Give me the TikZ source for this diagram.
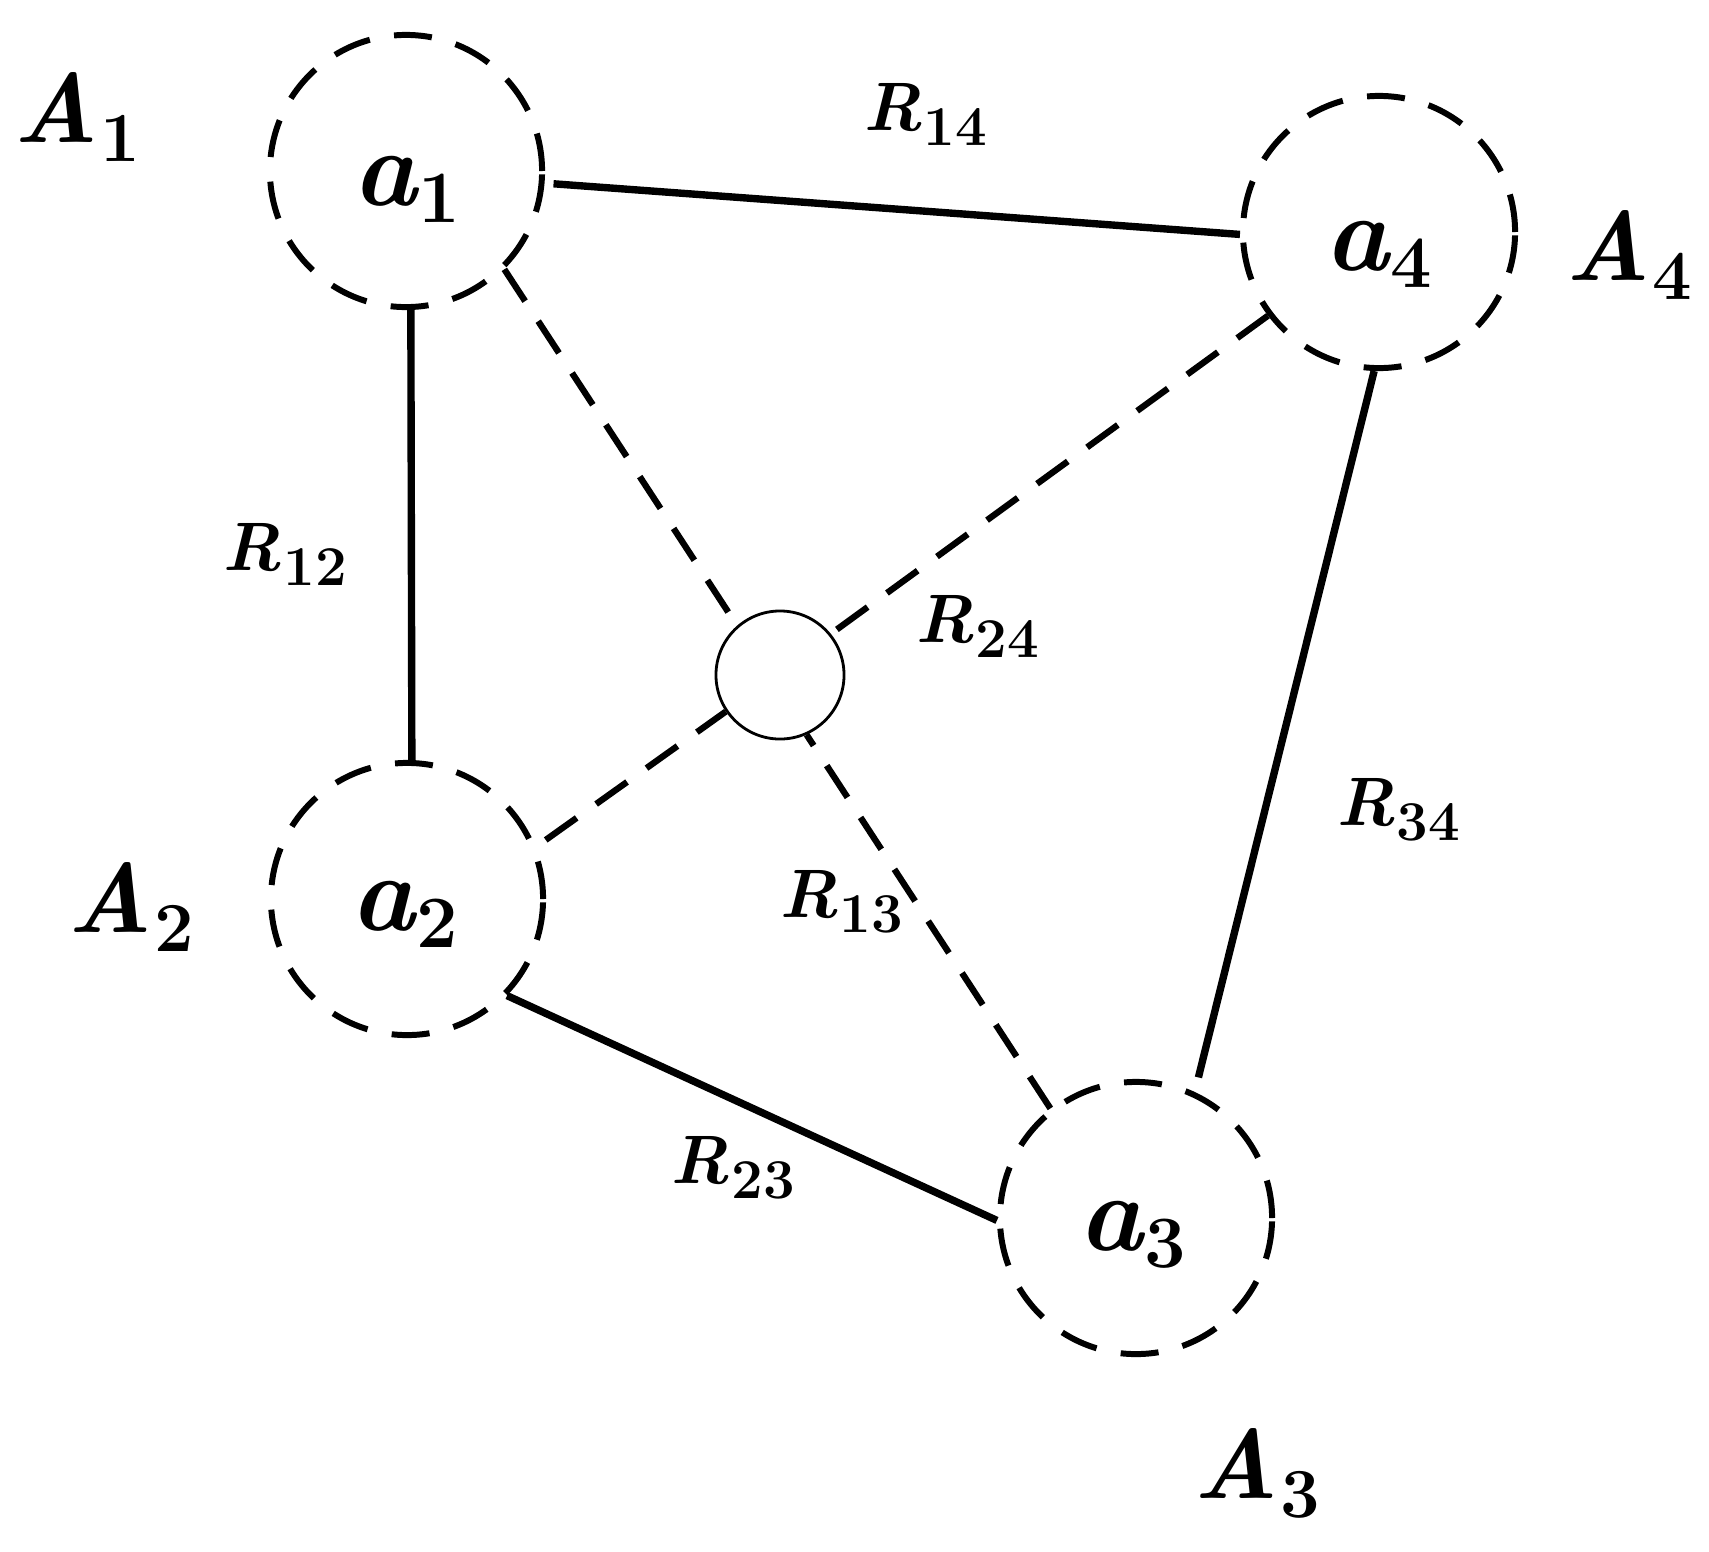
\documentclass[tikz,border=0pt]{standalone}
\newcommand\sublab[5]{{\fontsize{#3}{#3}\selectfont\bfseries\itshape #1}\kern0.5pt\raisebox{-#5}{\fontsize{#4}{#4}\selectfont\bfseries\upshape #2}}
\begin{document}
\begin{tikzpicture}[
  x=0.01cm, y=-0.01cm,
  bigc/.style={circle, draw, line width=1.7pt, dash pattern=on 10.8pt off 7pt, minimum size=2.72cm, inner sep=0pt},
  smallc/.style={circle, draw, line width=0.8pt, minimum size=1.28cm, inner sep=0pt},
  solidcon/.style={line width=2.1pt},
  dashcon/.style={line width=1.8pt, dash pattern=on 10.8pt off 6.8pt},
  labtext/.style={anchor=base, inner sep=0pt}
]
\useasboundingbox (0,0) rectangle (1709,1551);

% circles
\node[bigc] (a1) at (406,171) {};
\node[bigc] (a4) at (1379,232) {};
\node[bigc] (a2) at (407,899) {};
\node[bigc] (a3) at (1136,1218) {};
\node[smallc] (s) at (780,675) {};

% inner labels
\node[labtext] (la1) at (406,205) {\sublab{a}{1}{31}{21}{5pt}};
\node[labtext] (la4) at (1378,270) {\sublab{a}{4}{31}{21}{5pt}};
\node[labtext] (la2) at (404,930) {\sublab{a}{2}{31}{21}{5pt}};
\node[labtext] (la3) at (1132,1250) {\sublab{a}{3}{31}{21}{5pt}};

% outer labels
\node[labtext] (A1) at (77,142) {\sublab{A}{1}{28}{20}{5.5pt}};
\node[labtext] (A4) at (1629,280) {\sublab{A}{4}{28}{20}{5.5pt}};
\node[labtext] (A2) at (131,932) {\sublab{A}{2}{28}{20}{5.5pt}};
\node[labtext] (A3) at (1257,1498) {\sublab{A}{3}{28}{20}{5.5pt}};

% relation labels
\node[labtext] (R14) at (925,130) {\sublab{R}{14}{19.5}{16}{4.5pt}};
\node[labtext] (R12) at (285,570) {\sublab{R}{12}{19.5}{16}{4.5pt}};
\node[labtext] (R24) at (977,642) {\sublab{R}{24}{19.5}{16}{4.5pt}};
\node[labtext] (R13) at (841,917) {\sublab{R}{13}{19.5}{16}{4.5pt}};
\node[labtext] (R34) at (1398,825) {\sublab{R}{34}{19.5}{16}{4.5pt}};
\node[labtext] (R23) at (733,1183) {\sublab{R}{23}{19.5}{16}{4.5pt}};

% solid connectors
\draw[solidcon, shorten <=0.09cm] (a1.-5) -- (a4.181);
\draw[solidcon] (a1.-88) -- (a2.88);
\draw[solidcon, shorten >=0.15cm] (a4.-92) -- (a3.65);
\draw[solidcon] (a2.-44) -- (a3.181);

% dashed connectors to the small circle
\draw[dashcon] (a1.-45) -- (s.131);
\draw[dashcon] (a4.217) -- (s.39);
\draw[dashcon, shorten <=0.12cm] (a2.22) -- (s.214);
\draw[dashcon] (a3.128) -- (s.-66);
\end{tikzpicture}
\end{document}
